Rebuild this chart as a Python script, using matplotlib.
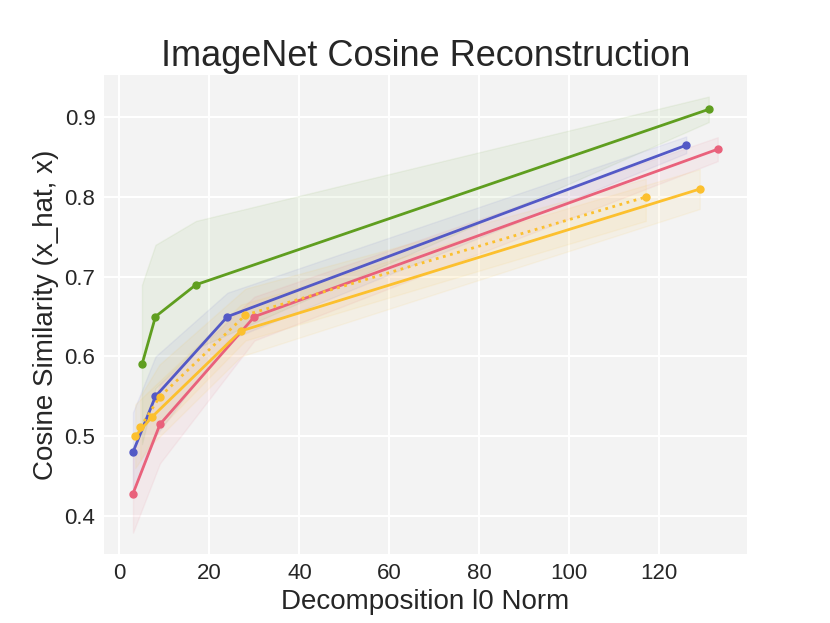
import matplotlib
matplotlib.use("Agg")
import matplotlib.pyplot as plt

plt.rcParams['font.family'] = ['Liberation Sans', 'DejaVu Sans']

# Data
green_x = [5, 8, 17, 131]
green_y = [0.59, 0.65, 0.69, 0.91]
green_lo = [0.49, 0.56, 0.61, 0.894]
green_hi = [0.69, 0.74, 0.77, 0.926]

blue_x = [3, 8, 24, 126]
blue_y = [0.48, 0.55, 0.65, 0.865]
blue_lo = [0.43, 0.50, 0.62, 0.855]
blue_hi = [0.53, 0.60, 0.68, 0.876]

red_x = [3, 9, 30, 133]
red_y = [0.428, 0.515, 0.65, 0.86]
red_lo = [0.379, 0.466, 0.62, 0.845]
red_hi = [0.48, 0.565, 0.675, 0.875]

yel_x = [3.5, 7.2, 27, 129]
yel_y = [0.50, 0.524, 0.632, 0.81]
yel_lo = [0.46, 0.49, 0.60, 0.785]
yel_hi = [0.54, 0.56, 0.665, 0.835]

yeld_x = [4.6, 8.9, 28, 117]
yeld_y = [0.511, 0.549, 0.652, 0.80]
yeld_lo = [0.47, 0.51, 0.62, 0.77]
yeld_hi = [0.55, 0.59, 0.685, 0.823]

GREEN = '#5f9e1f'
BLUE = '#5359c6'
RED = '#e9617b'
YELLOW = '#fcc02e'

fig = plt.figure(figsize=(8.3, 6.23), dpi=100)
ax = fig.add_subplot(111)
ax.set_facecolor('#f3f3f3')
ax.grid(True, color='white', linewidth=1.5)
ax.set_axisbelow(True)
for s in ax.spines.values():
    s.set_visible(False)
ax.tick_params(length=0, labelsize=16, pad=6)

series = [
    (green_x, green_y, green_lo, green_hi, GREEN, '-'),
    (blue_x, blue_y, blue_lo, blue_hi, BLUE, '-'),
    (red_x, red_y, red_lo, red_hi, RED, '-'),
    (yel_x, yel_y, yel_lo, yel_hi, YELLOW, '-'),
    (yeld_x, yeld_y, yeld_lo, yeld_hi, YELLOW, ':'),
]
for x, y, lo, hi, c, ls in series:
    ax.fill_between(x, lo, hi, color=c, alpha=0.07, linewidth=1)
for x, y, lo, hi, c, ls in series:
    ax.plot(x, y, color=c, linestyle=ls, linewidth=2, marker='o', markersize=5)

ax.set_title('ImageNet Cosine Reconstruction', fontsize=26, color='#262626')
ax.set_xlabel('Decomposition l0 Norm', fontsize=20, color='#262626', labelpad=4)
ax.set_ylabel('Cosine Similarity (x_hat, x)', fontsize=20, color='#262626')
ax.set_yticks([0.4, 0.5, 0.6, 0.7, 0.8, 0.9])
ax.set_xticks([0, 20, 40, 60, 80, 100, 120])
for lab in ax.get_xticklabels() + ax.get_yticklabels():
    lab.set_color('#262626')

fig.savefig('out.png', dpi=100)
